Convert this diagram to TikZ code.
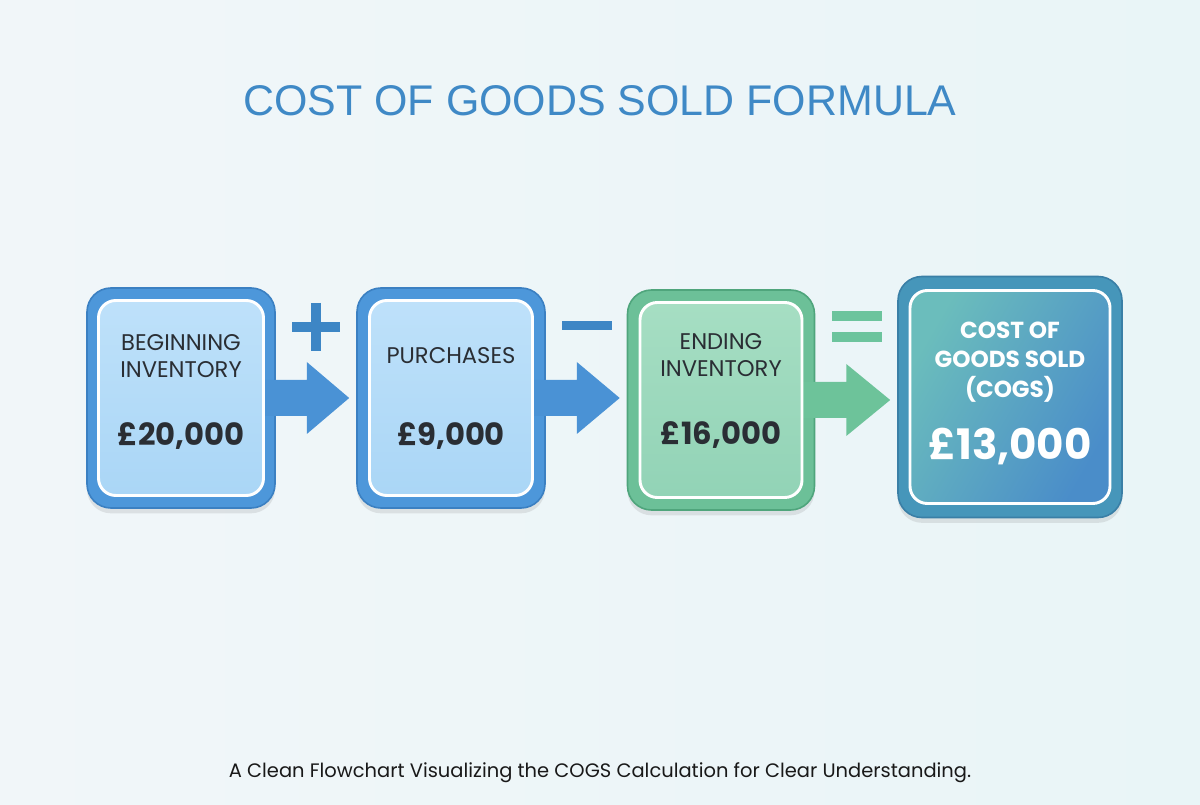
\documentclass[tikz,border=0pt]{standalone}
\usepackage{fontspec}
\setmainfont{Poppins}
\newfontfamily\titlefont{Liberation Sans}
\usetikzlibrary{calc,shadows}
\definecolor{bgL}{HTML}{F1F6F9}
\definecolor{bgR}{HTML}{E9F5F7}
\definecolor{blueout}{HTML}{4D97DA}
\definecolor{blueedge}{HTML}{3B80C2}
\definecolor{blueinA}{HTML}{BEE1FA}
\definecolor{blueinB}{HTML}{AAD6F6}
\definecolor{greenout}{HTML}{6CC098}
\definecolor{greenedge}{HTML}{4FA57C}
\definecolor{greeninA}{HTML}{A6DEC3}
\definecolor{greeninB}{HTML}{92D3B6}
\definecolor{cogsout}{HTML}{4696BA}
\definecolor{cogsedge}{HTML}{3A7FA6}
\definecolor{cogsA}{HTML}{6BBDBC}
\definecolor{cogsB}{HTML}{4A8DC9}
\definecolor{arrowblue}{HTML}{4A92D5}
\definecolor{arrowgreen}{HTML}{6DC39A}
\definecolor{opblue}{HTML}{3D86C5}
\definecolor{opgreen}{HTML}{6CC49D}
\definecolor{titleblue}{HTML}{3F89C6}
\definecolor{boxtext}{HTML}{2A2E34}
\begin{document}
\begin{tikzpicture}[x=0.75pt,y=-0.75pt,line join=round,
  outerbox/.style={rounded corners=18pt,line width=1.2pt,
    drop shadow={opacity=0.18,shadow xshift=0pt,shadow yshift=-4pt}},
  innerbox/.style={rounded corners=13pt,draw=white,line width=2.2pt},
  labeltext/.style={align=center,text=boxtext,font=\fontsize{17}{20}\selectfont},
  valuetext/.style={text=boxtext,font=\fontsize{23}{26}\selectfont\bfseries}]
  \def\px{0.75pt}
  % background
  \shade[left color=bgL,right color=bgR] (0,0) rectangle (1200,805);
  \useasboundingbox (0,0) rectangle (1200,805);
  \node[text=titleblue,font=\titlefont\fontsize{32.2}{36}\selectfont] (title) at (600,101) {COST OF GOODS SOLD FORMULA};
  % outer frames
  \node[outerbox,fill=blueout,draw=blueedge,minimum width=188*\px,minimum height=220*\px] (begout) at (181,398) {};
  \node[outerbox,fill=blueout,draw=blueedge,minimum width=188*\px,minimum height=220*\px] (purout) at (451,398) {};
  \node[outerbox,fill=greenout,draw=greenedge,minimum width=187*\px,minimum height=220*\px] (endout) at (721,400) {};
  \node[outerbox,fill=cogsout,draw=cogsedge,minimum width=224*\px,minimum height=241*\px] (cogsbox) at (1010,397) {};
  % arrows
  \foreach \a/\b/\c in {begout/purout/arrowblue,purout/endout/arrowblue,endout/cogsbox/arrowgreen}
    \fill[\c] ($(\a.east)+(-14,-18)$) -- ($(\a.east)+(31,-18)$) -- ($(\a.east)+(31,-36)$)
      -- ($(\b.west |- \a.east)+(-7,0)$) -- ($(\a.east)+(31,36)$) -- ($(\a.east)+(31,18)$)
      -- ($(\a.east)+(-14,18)$) -- cycle;
  % inner boxes
  \node[innerbox,top color=blueinA,bottom color=blueinB,minimum width=165*\px,minimum height=195*\px] (beginv) at (begout.center) {};
  \node[innerbox,top color=blueinA,bottom color=blueinB,minimum width=163*\px,minimum height=195*\px] (purch) at (purout.center) {};
  \node[innerbox,top color=greeninA,bottom color=greeninB,minimum width=162*\px,minimum height=195*\px] (ending) at (endout.center) {};
  \node[innerbox,left color=cogsA,right color=cogsB,shading angle=60,minimum width=200*\px,minimum height=213*\px] (cogs) at (cogsbox.center) {};
  % texts
  \node[labeltext] (beginlab) at ($(beginv.center)+(0,-42)$) {BEGINNING\\INVENTORY};
  \node[valuetext] (beginval) at ($(beginv.center)+(0,38)$) {£20,000};
  \node[labeltext] (purchlab) at ($(purch.center)+(0,-42)$) {PURCHASES};
  \node[valuetext] (purchval) at ($(purch.center)+(0,38)$) {£9,000};
  \node[labeltext] (endlab) at ($(ending.center)+(0,-45)$) {ENDING\\INVENTORY};
  \node[valuetext] (endval) at ($(ending.center)+(0,35)$) {£16,000};
  \node[align=center,text=white,font=\fontsize{17.4}{22}\selectfont\bfseries] (cogslab) at ($(cogs.center)+(0,-35)$) {COST OF\\GOODS SOLD\\(COGS)};
  \node[text=white,font=\fontsize{31.5}{34}\selectfont\bfseries] (cogsval) at ($(cogs.center)+(0,50)$) {£13,000};
  % operators
  \draw[opblue,line width=10*\px] (292,327) -- (340,327) (316,303) -- (316,351);
  \draw[opblue,line width=9*\px] (562,326) -- (612,326);
  \draw[opgreen,line width=10*\px] (832,316) -- (882,316) (832,337) -- (882,337);
  \node[font=\fontsize{14.6}{17}\selectfont,text=black!90] (caption) at (600,773) {A Clean Flowchart Visualizing the COGS Calculation for Clear Understanding.};
\end{tikzpicture}
\end{document}
